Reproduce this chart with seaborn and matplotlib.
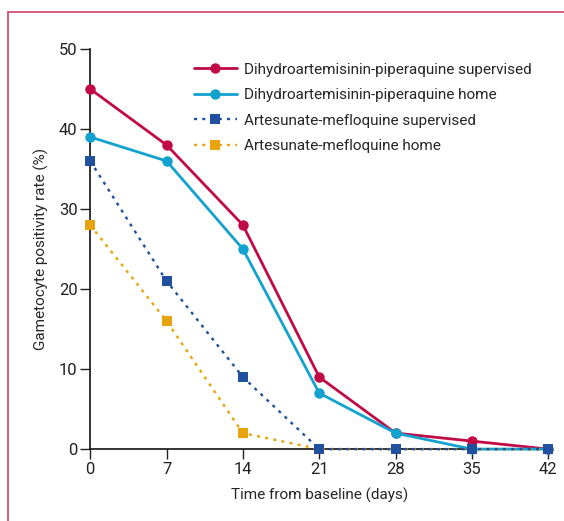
import pandas as pd
import seaborn as sns
import matplotlib as mpl
import matplotlib.pyplot as plt
from matplotlib.lines import Line2D

mpl.use("Agg")

days = [0, 7, 14, 21, 28, 35, 42]
dp_supervised = [45, 38, 28, 9, 2, 1, 0]
dp_home = [39, 36, 25, 7, 2, 0, 0]
am_supervised = [36, 21, 9, 0, 0, 0, 0]
am_home = [28, 16, 2, 0, 0, 0, 0]

series = [
    ("Dihydroartemisinin-piperaquine supervised", dp_supervised, "#c10a45", "o", "-"),
    ("Dihydroartemisinin-piperaquine home", dp_home, "#12a2cf", "o", "-"),
    ("Artesunate-mefloquine supervised", am_supervised, "#21509e", "s", ":"),
    ("Artesunate-mefloquine home", am_home, "#e8a40c", "s", ":"),
]

sns.set_style("ticks")
plt.rcParams['font.family'] = ['Roboto', 'DejaVu Sans']


def line_kw(mk, ls):
    if ls == "-":
        return dict(linestyle="-", linewidth=2, marker=mk, markersize=7.5, markeredgewidth=0)
    return dict(linestyle=(0, (1.3, 2.2)), linewidth=1.7, marker=mk, markersize=6.8, markeredgewidth=0)


fig = plt.figure(figsize=(5.64, 5.21), dpi=100)
ax = fig.add_axes([0.16, 0.138, 0.812, 0.768])

# draw order: solid lines first, AM home line over the zero baseline
order = [0, 1, 3, 2]
z = {0: 3, 1: 4, 3: 5, 2: 6}
for i in order:
    name, vals, col, mk, ls = series[i]
    df = pd.DataFrame({"day": days, "rate": vals})
    sns.lineplot(data=df, x="day", y="rate", ax=ax, color=col, clip_on=False,
                 zorder=z[i], label=name, **line_kw(mk, ls))

ax.set_xlim(0, 42)
ax.set_ylim(0, 50)
ax.set_xticks(days)
ax.set_yticks([0, 10, 20, 30, 40, 50])
ax.tick_params(direction="out", length=7, width=1, labelsize=12, colors="#222222", pad=2)
for s in ["left", "bottom"]:
    ax.spines[s].set_linewidth(1.2)
    ax.spines[s].set_color("#111111")
sns.despine(ax=ax)
ax.set_xlabel("Time from baseline (days)", fontsize=11, labelpad=8)
ax.set_ylabel("Gametocyte positivity rate (%)", fontsize=11, labelpad=7)

handles = [Line2D([], [], color=c, **line_kw(m, l)) for _, _, c, m, l in series]
ax.legend(handles, [s[0] for s in series], loc="upper right", frameon=False,
          fontsize=11, handlelength=2.8, handletextpad=0.5, labelspacing=0.75,
          bbox_to_anchor=(0.995, 1.0))

# pink frame on left and top
frame = "#d2426c"
fig.add_artist(Line2D([8 / 564, 8 / 564], [0, 1 - 12 / 521], color=frame, lw=1.2, transform=fig.transFigure))
fig.add_artist(Line2D([8 / 564, 1], [1 - 12 / 521, 1 - 12 / 521], color=frame, lw=1.2, transform=fig.transFigure))

fig.savefig("out.png", dpi=100, facecolor="white")
